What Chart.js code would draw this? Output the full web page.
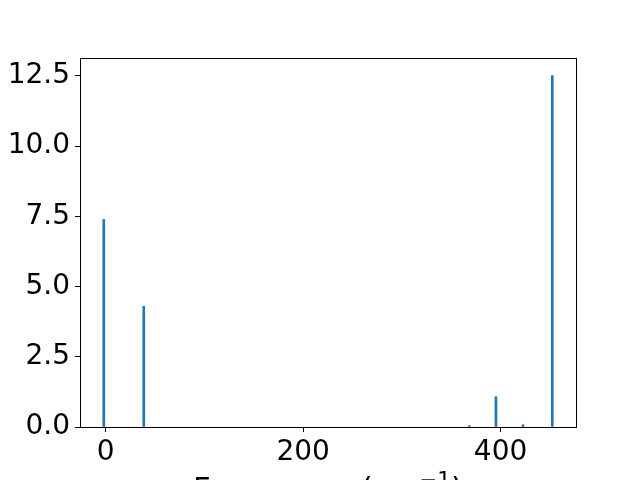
<!DOCTYPE html>
<html>
<head>
<meta charset="utf-8">
<script src="https://cdn.jsdelivr.net/npm/chart.js@4/dist/chart.umd.min.js"></script>
<style>
  body { margin: 0; background: #fff; }
  canvas { display: block; }
</style>
</head>
<body>
<canvas id="grafico" width="640" height="480"></canvas>
<script>
// frequencies (cm^-1) and intensities
var frecuencias = [-2.0, 38.5, 368.3, 395.3, 422.7, 452.4]
var intensidades = [7.39, 4.30, 0.05, 1.08, 0.08, 12.51]
var ticksX = [0, 200, 400]
var ticksY = [0, 2.5, 5, 7.5, 10, 12.5]

var fuente = 'DejaVu Sans'
var azul = '#1f77b4'

var puntos = frecuencias.map((f, i) => ({ x: f, y: intensidades[i] }))

// frame round the axes + xlabel with superscript
var marco = {
  id: 'marco',
  afterDraw: (chart) => {
    var ctx = chart.ctx
    var a = chart.chartArea
    ctx.save()
    ctx.strokeStyle = '#000'
    ctx.lineWidth = 1
    ctx.strokeRect(Math.round(a.left) + 0.5, Math.round(a.top) + 0.5, Math.round(a.right - a.left), Math.round(a.bottom - a.top))

    var base = 'Frequency (cm'
    var sup = '\u22121'
    var fin = ')'
    var grande = '30.6px "' + fuente + '"'
    var chica = '21.4px "' + fuente + '"'
    ctx.fillStyle = '#000'
    ctx.textBaseline = 'alphabetic'
    ctx.font = grande
    var w1 = ctx.measureText(base).width
    var w3 = ctx.measureText(fin).width
    ctx.font = chica
    var w2 = ctx.measureText(sup).width
    var total = w1 + w2 + w3
    var x = (a.left + a.right) / 2 - total / 2
    var y = 499
    ctx.font = grande
    ctx.fillText(base, x, y)
    ctx.font = chica
    ctx.fillText(sup, x + w1, y - 12)
    ctx.font = grande
    ctx.fillText(fin, x + w1 + w2, y)
    ctx.restore()
  }
}

var fondo = {
  id: 'fondo',
  beforeDraw: (chart) => {
    var ctx = chart.ctx
    ctx.save()
    ctx.fillStyle = '#fff'
    ctx.fillRect(0, 0, chart.width, chart.height)
    ctx.restore()
  }
}

new Chart(document.getElementById('grafico'), {
  type: 'bar',
  data: {
    datasets: [{
      data: puntos,
      backgroundColor: azul,
      borderWidth: 0,
      barThickness: 2,
      grouped: false
    }]
  },
  options: {
    responsive: false,
    animation: false,
    layout: { padding: { top: 58, right: 64, left: 0, bottom: 0 } },
    plugins: { legend: { display: false }, tooltip: { enabled: false } },
    scales: {
      x: {
        type: 'linear',
        min: -26.1,
        max: 476.4,
        offset: false,
        afterFit: (s) => { s.height = 53 },
        afterBuildTicks: (s) => { s.ticks = ticksX.map(v => ({ value: v })) },
        border: { display: false },
        grid: { offset: false, drawOnChartArea: false, drawTicks: true, tickLength: 5, tickColor: '#000', color: '#000' },
        ticks: {
          color: '#000',
          padding: 4,
          maxRotation: 0,
          font: { family: fuente, size: 28 },
          callback: (v) => String(v)
        }
      },
      y: {
        type: 'linear',
        min: 0,
        max: 13.14,
        afterFit: (s) => { s.width = 80 },
        afterBuildTicks: (s) => { s.ticks = ticksY.map(v => ({ value: v })) },
        border: { display: false },
        grid: { drawOnChartArea: false, drawTicks: true, tickLength: 5, tickColor: '#000', color: '#000' },
        ticks: {
          color: '#000',
          padding: 5,
          font: { family: fuente, size: 28 },
          callback: (v) => v.toFixed(1)
        }
      }
    }
  },
  plugins: [fondo, marco]
})
</script>
</body>
</html>
